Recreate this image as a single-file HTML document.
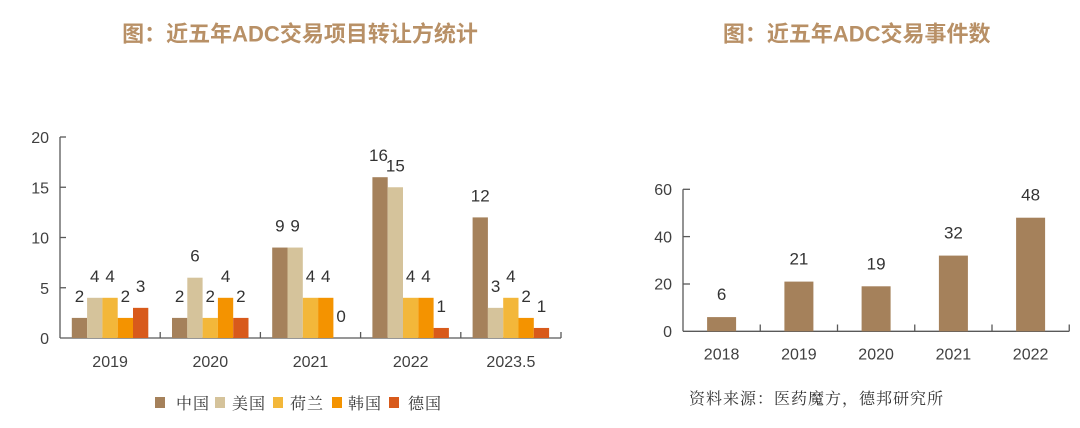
<!DOCTYPE html>
<html>
<head>
<meta charset="utf-8">
<style>
  html,body{margin:0;padding:0;background:#ffffff;}
  body{width:1080px;height:428px;overflow:hidden;}
  svg{display:block;}
  .t{font-family:"Liberation Sans","Noto Sans CJK SC",sans-serif;font-weight:bold;font-size:22px;fill:#B89066;}
  .ax{font-family:"Liberation Sans",sans-serif;font-size:16px;fill:#404040;}
  .dl{font-family:"Liberation Sans",sans-serif;font-size:17px;fill:#333333;}
  .lg{font-family:"Liberation Serif","Noto Serif CJK SC",serif;font-size:16px;fill:#333333;letter-spacing:1px;}
</style>
</head>
<body>
<svg width="1080" height="428" viewBox="0 0 1080 428" xmlns="http://www.w3.org/2000/svg">
  <!-- Titles -->
  <text class="t" x="300" y="41.5" text-anchor="middle">图：近五年ADC交易项目转让方统计</text>
  <text class="t" x="856.7" y="41.5" text-anchor="middle">图：近五年ADC交易事件数</text>

  <!-- LEFT CHART -->
  <g stroke="#595959" stroke-width="1.3" fill="none">
    <line x1="60" y1="137" x2="60" y2="338"/>
    <line x1="60" y1="338" x2="561" y2="338"/>
    <line x1="60" y1="137" x2="66" y2="137"/>
    <line x1="60" y1="187.25" x2="66" y2="187.25"/>
    <line x1="60" y1="237.5" x2="66" y2="237.5"/>
    <line x1="60" y1="287.75" x2="66" y2="287.75"/>
    <line x1="160.2" y1="338" x2="160.2" y2="332"/>
    <line x1="260.4" y1="338" x2="260.4" y2="332"/>
    <line x1="360.6" y1="338" x2="360.6" y2="332"/>
    <line x1="460.8" y1="338" x2="460.8" y2="332"/>
    <line x1="561" y1="338" x2="561" y2="332"/>
  </g>
  <g class="ax" text-anchor="end">
    <text x="49" y="143">20</text>
    <text x="49" y="193.25">15</text>
    <text x="49" y="243.5">10</text>
    <text x="49" y="293.75">5</text>
    <text x="49" y="344">0</text>
  </g>
  <g class="ax" text-anchor="middle">
    <text x="110.1" y="367">2019</text>
    <text x="210.3" y="367">2020</text>
    <text x="310.5" y="367">2021</text>
    <text x="410.7" y="367">2022</text>
    <text x="510.9" y="367">2023.5</text>
  </g>
  <!-- bars -->
  <g>
    <!-- 2019 -->
    <rect x="71.8" y="317.9" width="15.3" height="20.1" fill="#A5815B"/>
    <rect x="87.1" y="297.8" width="15.3" height="40.2" fill="#D5C39B"/>
    <rect x="102.4" y="297.8" width="15.3" height="40.2" fill="#F3B73A"/>
    <rect x="117.7" y="317.9" width="15.3" height="20.1" fill="#F49300"/>
    <rect x="133.0" y="307.85" width="15.3" height="30.15" fill="#D85A1B"/>
    <!-- 2020 -->
    <rect x="172.0" y="317.9" width="15.3" height="20.1" fill="#A5815B"/>
    <rect x="187.3" y="277.7" width="15.3" height="60.3" fill="#D5C39B"/>
    <rect x="202.6" y="317.9" width="15.3" height="20.1" fill="#F3B73A"/>
    <rect x="217.9" y="297.8" width="15.3" height="40.2" fill="#F49300"/>
    <rect x="233.2" y="317.9" width="15.3" height="20.1" fill="#D85A1B"/>
    <!-- 2021 -->
    <rect x="272.2" y="247.55" width="15.3" height="90.45" fill="#A5815B"/>
    <rect x="287.5" y="247.55" width="15.3" height="90.45" fill="#D5C39B"/>
    <rect x="302.8" y="297.8" width="15.3" height="40.2" fill="#F3B73A"/>
    <rect x="318.1" y="297.8" width="15.3" height="40.2" fill="#F49300"/>
    <!-- 2022 -->
    <rect x="372.4" y="177.2" width="15.3" height="160.8" fill="#A5815B"/>
    <rect x="387.7" y="187.25" width="15.3" height="150.75" fill="#D5C39B"/>
    <rect x="403.0" y="297.8" width="15.3" height="40.2" fill="#F3B73A"/>
    <rect x="418.3" y="297.8" width="15.3" height="40.2" fill="#F49300"/>
    <rect x="433.6" y="327.95" width="15.3" height="10.05" fill="#D85A1B"/>
    <!-- 2023.5 -->
    <rect x="472.6" y="217.4" width="15.3" height="120.6" fill="#A5815B"/>
    <rect x="487.9" y="307.85" width="15.3" height="30.15" fill="#D5C39B"/>
    <rect x="503.2" y="297.8" width="15.3" height="40.2" fill="#F3B73A"/>
    <rect x="518.5" y="317.9" width="15.3" height="20.1" fill="#F49300"/>
    <rect x="533.8" y="327.95" width="15.3" height="10.05" fill="#D85A1B"/>
  </g>
  <g class="dl" text-anchor="middle">
    <text x="79.45" y="301.9">2</text>
    <text x="94.75" y="281.8">4</text>
    <text x="110.05" y="281.8">4</text>
    <text x="125.35" y="301.9">2</text>
    <text x="140.65" y="291.85">3</text>

    <text x="179.65" y="301.9">2</text>
    <text x="194.95" y="261.7">6</text>
    <text x="210.25" y="301.9">2</text>
    <text x="225.55" y="281.8">4</text>
    <text x="240.85" y="301.9">2</text>

    <text x="279.85" y="231.55">9</text>
    <text x="295.15" y="231.55">9</text>
    <text x="310.45" y="281.8">4</text>
    <text x="325.75" y="281.8">4</text>
    <text x="341.05" y="322">0</text>

    <text x="378.5" y="161.2">16</text>
    <text x="395.35" y="171.25">15</text>
    <text x="410.65" y="281.8">4</text>
    <text x="425.95" y="281.8">4</text>
    <text x="441.25" y="311.95">1</text>

    <text x="480.25" y="201.4">12</text>
    <text x="495.55" y="291.85">3</text>
    <text x="510.85" y="281.8">4</text>
    <text x="526.15" y="301.9">2</text>
    <text x="541.45" y="311.95">1</text>
  </g>

  <!-- Legend -->
  <rect x="155" y="397" width="10" height="11" fill="#A5815B"/>
  <text class="lg" x="176" y="409">中国</text>
  <rect x="215" y="397" width="10" height="11" fill="#D5C39B"/>
  <text class="lg" x="232" y="409">美国</text>
  <rect x="273" y="397" width="10" height="11" fill="#F3B73A"/>
  <text class="lg" x="290" y="409">荷兰</text>
  <rect x="332" y="397" width="10" height="11" fill="#F49300"/>
  <text class="lg" x="348" y="409">韩国</text>
  <rect x="389" y="397" width="10" height="11" fill="#D85A1B"/>
  <text class="lg" x="408" y="409">德国</text>

  <!-- RIGHT CHART -->
  <g stroke="#595959" stroke-width="1.3" fill="none">
    <line x1="683" y1="189.3" x2="683" y2="331.3"/>
    <line x1="683" y1="331.3" x2="1069.25" y2="331.3"/>
    <line x1="683" y1="189.3" x2="690" y2="189.3"/>
    <line x1="683" y1="236.6" x2="690" y2="236.6"/>
    <line x1="683" y1="284" x2="690" y2="284"/>
    <line x1="760.25" y1="331.3" x2="760.25" y2="324.5"/>
    <line x1="837.5" y1="331.3" x2="837.5" y2="324.5"/>
    <line x1="914.75" y1="331.3" x2="914.75" y2="324.5"/>
    <line x1="992" y1="331.3" x2="992" y2="324.5"/>
    <line x1="1069.25" y1="331.3" x2="1069.25" y2="324.5"/>
  </g>
  <g class="ax" text-anchor="end">
    <text x="672" y="195">60</text>
    <text x="672" y="242.3">40</text>
    <text x="672" y="289.7">20</text>
    <text x="672" y="337">0</text>
  </g>
  <g class="ax" text-anchor="middle">
    <text x="721.6" y="359.5">2018</text>
    <text x="798.9" y="359.5">2019</text>
    <text x="876.1" y="359.5">2020</text>
    <text x="953.4" y="359.5">2021</text>
    <text x="1030.6" y="359.5">2022</text>
  </g>
  <g fill="#A5815B">
    <rect x="707.1" y="317.1" width="29" height="14.2"/>
    <rect x="784.4" y="281.6" width="29" height="49.7"/>
    <rect x="861.6" y="286.3" width="29" height="45"/>
    <rect x="938.9" y="255.6" width="29" height="75.7"/>
    <rect x="1016.1" y="217.7" width="29" height="113.6"/>
  </g>
  <g class="dl" text-anchor="middle">
    <text x="721.6" y="300.1">6</text>
    <text x="798.9" y="264.6">21</text>
    <text x="876.1" y="269.3">19</text>
    <text x="953.4" y="238.6">32</text>
    <text x="1030.6" y="200.7">48</text>
  </g>

  <!-- Source -->
  <text class="lg" x="689" y="404">资料来源：医药魔方，德邦研究所</text>
</svg>
</body>
</html>
